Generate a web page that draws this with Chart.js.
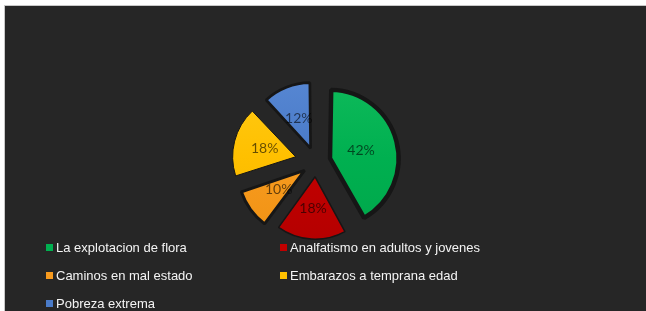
<!DOCTYPE html>
<html>
<head>
<meta charset="utf-8">
<script src="https://cdn.jsdelivr.net/npm/chart.js@4"></script>
<style>
  html, body { margin: 0; padding: 0; background: #ffffff; }
  body { width: 646px; height: 311px; position: relative; overflow: hidden; }
  #bg { position: absolute; left: 4px; top: 5px; right: 0; bottom: 0; background: #262626; border-left: 1px solid #c8c8c8; border-top: 1px solid #c8c8c8; }
  #wrap { position: absolute; left: 0; top: 0; width: 646px; height: 311px; }
  #legend { position: absolute; left: 46px; top: 233px; display: grid; grid-template-columns: 234px 300px; grid-auto-rows: 28px; font-family: "Liberation Sans", Arial, sans-serif; font-size: 13px; color: #f4f4f4; }
  .item { display: flex; align-items: center; white-space: nowrap; }
  .sw { width: 7px; height: 7px; margin-right: 3px; flex: none; }
</style>
</head>
<body>
<div id="bg"></div>
<div id="wrap"><canvas id="c" width="646" height="311"></canvas></div>
<div id="legend"></div>
<script>
// ---- data ----
const categories = [
  "La explotacion de flora",
  "Analfatismo en adultos y jovenes",
  "Caminos en mal estado",
  "Embarazos a temprana edad",
  "Pobreza extrema"
];
const values = [42, 18, 10, 18, 12];

// ---- styles ----
const colors = ["#00b050", "#c00000", "#f79a1e", "#ffc000", "#4a7bc8"];
const lightColors = ["#10bb5c", "#d40808", "#ffa52a", "#ffcc1a", "#5a8ad6"];
const darkColors = ["#00a64a", "#b00000", "#ee9010", "#f2b400", "#3e6fbe"];
const sliceShift = [14.5, 14.8, 14.1, 21.0, 14.7];   // explosion distance, px
const sliceBorder = [4.4, 1.5, 2.9, 1.0, 2.7];       // dark outline width, px

// HTML legend built from the arrays
const legend = document.getElementById('legend');
categories.forEach((name, i) => {
  const it = document.createElement('div');
  it.className = 'item';
  const sw = document.createElement('span');
  sw.className = 'sw';
  sw.style.background = colors[i];
  const tx = document.createElement('span');
  tx.textContent = name;
  it.appendChild(sw);
  it.appendChild(tx);
  legend.appendChild(it);
});

function sliceFill(ctx) {
  const chart = ctx.chart;
  const i = ctx.dataIndex;
  const a = chart.chartArea;
  if (!a) return colors[i];
  const cy = (a.top + a.bottom) / 2;
  const g = chart.ctx.createLinearGradient(0, cy - 90, 0, cy + 90);
  g.addColorStop(0, lightColors[i]);
  g.addColorStop(0.5, colors[i]);
  g.addColorStop(1, darkColors[i]);
  return g;
}

const pctLabels = {
  id: 'pctLabels',
  afterDatasetsDraw(chart) {
    const ctx = chart.ctx;
    const meta = chart.getDatasetMeta(0);
    ctx.save();
    ctx.font = '14px Lato, "Open Sans", sans-serif';
    ctx.fillStyle = 'rgba(0,0,0,0.6)';
    ctx.textAlign = 'center';
    ctx.textBaseline = 'middle';
    meta.data.forEach((arc, i) => {
      const p = arc.getProps(['x', 'y', 'startAngle', 'endAngle']);
      const mid = (p.startAngle + p.endAngle) / 2;
      const d = sliceShift[i] + 32;
      ctx.fillText(values[i] + '%', p.x + Math.cos(mid) * d, p.y + Math.sin(mid) * d);
    });
    ctx.restore();
  }
};

new Chart(document.getElementById('c'), {
  type: 'pie',
  data: {
    labels: categories,
    datasets: [{
      data: values,
      backgroundColor: sliceFill,
      borderColor: '#161616',
      borderWidth: (ctx) => sliceBorder[ctx.dataIndex],
      offset: (ctx) => sliceShift[ctx.dataIndex] * 4,   // Chart.js v4 translates an arc by offset/4
      radius: 61
    }]
  },
  options: {
    responsive: false,
    animation: false,
    layout: { padding: { left: 0, right: 14, top: 13, bottom: 0 } },
    plugins: { legend: { display: false }, tooltip: { enabled: false } }
  },
  plugins: [pctLabels]
});
</script>
</body>
</html>
